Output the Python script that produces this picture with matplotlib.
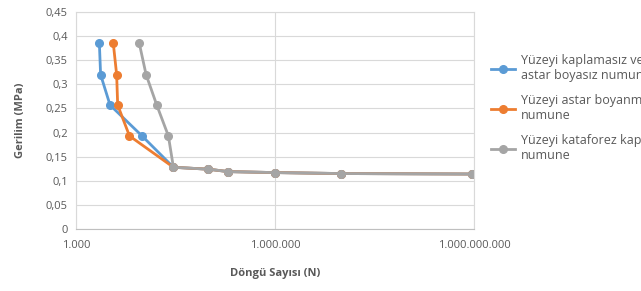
import matplotlib.pyplot as plt
from matplotlib.ticker import FixedLocator, FuncFormatter, NullLocator

# data
cycles_blue = [2250, 2350, 3260, 9900, 29400, 99000, 198000, 1000000, 9800000, 930000000]
cycles_orange = [3650, 4100, 4250, 6400, 29400, 99000, 198000, 1000000, 9800000, 930000000]
cycles_gray = [9000, 11400, 16500, 24700, 29400, 99000, 198000, 1000000, 9800000, 930000000]
stress = [0.385, 0.32, 0.257, 0.193, 0.128, 0.124, 0.119, 0.117, 0.115, 0.114]

labels = ["Yüzeyi kaplamasız ve\nastar boyasız numune",
          "Yüzeyi astar boyanmış\nnumune",
          "Yüzeyi kataforez kaplı\nnumune"]
colors = ["#5B9BD5", "#ED7D31", "#A5A5A5"]

plt.rcParams['font.family'] = ['Open Sans', 'DejaVu Sans']

fig = plt.figure(figsize=(6.41, 2.91), dpi=100)
ax = fig.add_axes([76/641, (291-229)/291, 398/641, 217/291])

for xs, lab, c in zip([cycles_blue, cycles_orange, cycles_gray], labels, colors):
    ax.plot(xs, stress, color=c, lw=2.0, marker='o', ms=5.5, label=lab)

ax.set_xscale('log')
ax.set_xlim(1e3, 1e9)
ax.set_ylim(0, 0.45)
ax.xaxis.set_major_locator(FixedLocator([1e3, 1e6, 1e9]))
ax.xaxis.set_minor_locator(NullLocator())
ax.xaxis.set_major_formatter(FuncFormatter(lambda v, p: f"{int(round(v)):,}".replace(",", ".")))
ax.set_yticks([i * 0.05 for i in range(10)])
ax.yaxis.set_major_formatter(FuncFormatter(lambda v, p: f"{v:.2f}".rstrip('0').rstrip('.').replace(".", ",") if v else "0"))

ax.grid(True, color='#D9D9D9', lw=0.8)
ax.set_axisbelow(True)
for s in ['top', 'right', 'left']:
    ax.spines[s].set_color('#D9D9D9')
ax.spines['bottom'].set_color('#BFBFBF')
ax.tick_params(length=0, labelsize=8, colors='#595959', pad=6)
ax.tick_params(axis='x', pad=8)

ax.set_xlabel("Döngü Sayısı (N)", fontsize=8, fontweight='bold', color='#595959', labelpad=12)
ax.set_ylabel("Gerilim (MPa)", fontsize=8, fontweight='bold', color='#595959', labelpad=14)

fig.legend(loc='upper left', bbox_to_anchor=(480/641, 1 - 43/291), frameon=False,
           fontsize=9, handlelength=1.9, handletextpad=0.45, labelspacing=0.95,
           labelcolor='#595959')

fig.savefig('out.png', dpi=100)
